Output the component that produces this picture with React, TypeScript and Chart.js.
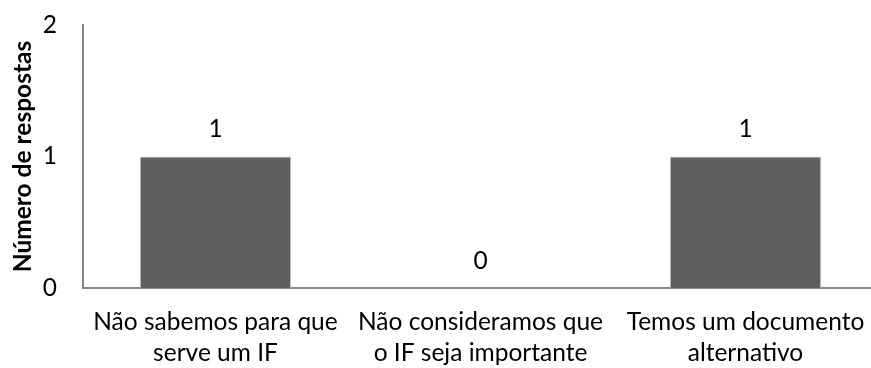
import React, { useEffect, useRef } from "react";
import { Chart, registerables } from "chart.js";

Chart.register(...registerables);

// Survey answers: why the organisation has no IF
const categories: string[][] = [
  ["Não sabemos para que", "serve um IF"],
  ["Não consideramos que", "o IF seja importante"],
  ["Temos um documento", "alternativo"],
];
const responses: number[] = [1, 0, 1];
const yTickValues: number[] = [0, 1, 2];
const yAxisTitle = "Número de respostas";

const FONT_FAMILY = "Lato, 'Open Sans', sans-serif";
const FONT_SIZE = 24.5;
const TEXT_COLOR = "#000000";
const AXIS_COLOR = "#868686";
const BAR_COLOR = "#606060";
const BAR_EDGE = "#cfcfcf";

// Writes each bar's value above it
const valueLabels = {
  id: "valueLabels",
  afterDatasetsDraw(chart: any) {
    const { ctx } = chart;
    const meta = chart.getDatasetMeta(0);
    ctx.save();
    ctx.font = `${FONT_SIZE}px ${FONT_FAMILY}`;
    ctx.fillStyle = TEXT_COLOR;
    ctx.textAlign = "center";
    ctx.textBaseline = "middle";
    meta.data.forEach((bar: any, i: number) => {
      const v = chart.data.datasets[0].data[i];
      ctx.fillText(String(v), bar.x, bar.y - 27);
    });
    ctx.restore();
  },
};

export default function App() {
  const canvasRef = useRef<HTMLCanvasElement | null>(null);

  useEffect(() => {
    const canvas = canvasRef.current;
    if (!canvas) return;
    const chart = new Chart(canvas, {
      type: "bar",
      data: {
        labels: categories,
        datasets: [
          {
            data: responses,
            backgroundColor: BAR_COLOR,
            borderColor: BAR_EDGE,
            borderWidth: 1,
            categoryPercentage: 1,
            barPercentage: 0.572,
          },
        ],
      },
      options: {
        responsive: false,
        animation: false,
        layout: { padding: { left: 0, top: 25, right: 22, bottom: 0 } },
        plugins: {
          legend: { display: false },
          tooltip: { enabled: false },
          title: { display: false },
        },
        scales: {
          x: {
            grid: { display: false, drawTicks: false },
            border: { display: true, color: AXIS_COLOR, width: 2 },
            ticks: {
              color: TEXT_COLOR,
              padding: 18,
              maxRotation: 0,
              autoSkip: false,
              font: { family: FONT_FAMILY, size: FONT_SIZE, lineHeight: 1.29 },
            },
            afterFit(scale: any) {
              scale.height = 80;
            },
          },
          y: {
            min: 0,
            max: 2,
            afterBuildTicks(scale: any) {
              scale.ticks = yTickValues.map((v) => ({ value: v }));
            },
            grid: { display: false, drawTicks: false },
            border: { display: true, color: AXIS_COLOR, width: 2 },
            ticks: {
              color: TEXT_COLOR,
              padding: 26,
              font: { family: FONT_FAMILY, size: FONT_SIZE },
            },
            title: {
              display: true,
              text: yAxisTitle,
              color: TEXT_COLOR,
              padding: { top: 8, bottom: 0 },
              font: { family: FONT_FAMILY, size: FONT_SIZE, weight: "bold" },
            },
            afterFit(scale: any) {
              scale.width = 83;
              // let the layout padding alone decide the plot's top edge
              scale.paddingTop = 0;
              scale.paddingBottom = 0;
            },
          },
        },
      },
      plugins: [valueLabels],
    });
    return () => chart.destroy();
  }, []);

  return (
    <div
      style={{
        position: "fixed",
        left: 0,
        top: 0,
        width: 871,
        height: 368,
        overflow: "hidden",
        background: "#ffffff",
      }}
    >
      <canvas ref={canvasRef} width={900} height={368} style={{ display: "block" }} />
    </div>
  );
}
